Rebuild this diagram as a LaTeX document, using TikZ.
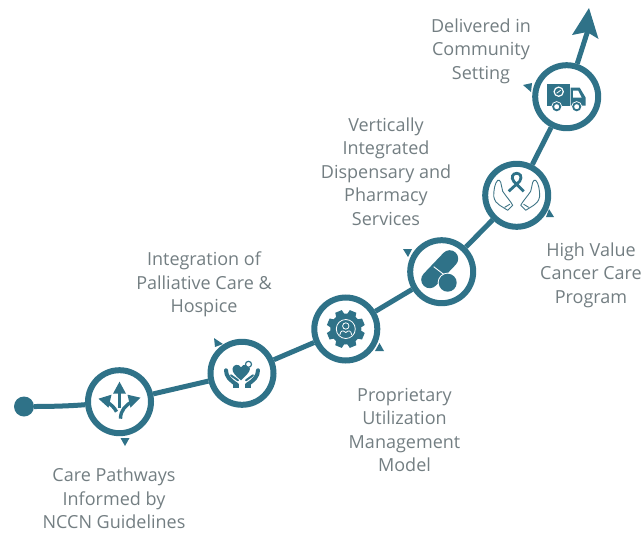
\documentclass[tikz,border=0pt]{standalone}
\usepackage{fontspec}
\setmainfont{Open Sans}
\definecolor{teal1}{HTML}{2F7288}
\definecolor{txt}{HTML}{737E82}
\tikzset{
  x=1pt,y=-1pt,
  stage/.style={circle,draw=teal1,line width=6pt,fill=white,minimum size=63pt,inner sep=0pt},
  link/.style={draw=teal1,line width=5pt},
  steplabel/.style={text=txt,font=\fontsize{18}{23.5}\selectfont,align=center,inner sep=0pt},
  pointer/.style={fill=teal1,draw=none},
  hand/.style={draw=teal1!80!gray,line width=0.9pt,fill=white,line join=round,line cap=round},
  palm/.style={draw=teal1,line width=4pt,line join=round,line cap=round},
}
\begin{document}
\begin{tikzpicture}
\useasboundingbox (0,0) rectangle (643,533);
\node[circle,fill=teal1,minimum size=20pt,inner sep=0pt] (start) at (24,406.5) {};
\node[stage] (n1) at (119.5,401.7) {};
\node[stage] (n2) at (242,373.3) {};
\node[stage] (n3) at (345.8,329) {};
\node[stage] (n4) at (441.7,271.7) {};
\node[stage] (n5) at (516.7,195.3) {};
\node[stage] (n6) at (566.7,96.7) {};
\coordinate (tip) at (588,30);
\draw[link] (start) .. controls (50,406.5) and (70,406) .. (n1);
\draw[link] (n1) -- (n2);
\draw[link] (n2) -- (n3);
\draw[link] (n3) -- (n4);
\draw[link] (n4) -- (n5);
\draw[link] (n5) -- (n6);
\draw[link] (n6) -- (tip);
\fill[teal1] (589,8) -- (598.5,39) -- (587,32) -- (572,35) -- cycle;
% small triangles
\fill[pointer] (120.5,438) -- (129.5,438) -- (125,446) -- cycle;
\fill[pointer] (214,338) -- (223,344) -- (215,347) -- cycle;
\fill[pointer] (375,351) -- (384,351) -- (379.5,343) -- cycle;
\fill[pointer] (403,249) -- (412,249) -- (408,257) -- cycle;
\fill[pointer] (546,217) -- (554,217) -- (549,209) -- cycle;
\fill[pointer] (523,85) -- (532,83) -- (531,92) -- cycle;
% icon 1: three arrows
\begin{scope}[shift={(n1.center)}]
\draw[teal1,line width=3.6pt] (0,-10) -- (0,6);
\fill[teal1] (0,-20) -- (6.5,-8) -- (-6.5,-8) -- cycle;
\draw[teal1,line width=3.4pt] (-3,10) .. controls (-5,6) and (-8,3) .. (-13,0);
\draw[teal1,line width=3.4pt] (1,17) .. controls (1,9) and (6,3) .. (13,0);
\fill[teal1] (-21,-3) -- (-8,-7) -- (-11,6) -- cycle;
\fill[teal1] (21,-4) -- (8,-7) -- (11,6) -- cycle;
\end{scope}
% icon 2: heart in hands
\begin{scope}[shift={(n2.center)}]
\fill[teal1] (-1,7) .. controls (-6,3) and (-10,-1) .. (-9.5,-4.5) .. controls (-9,-9) and (-3.5,-10) .. (-1,-6) .. controls (1,-10) and (7,-9) .. (8,-4.5) .. controls (8,-1) and (3,3) .. (-1,7) -- cycle;
\draw[teal1,line width=1.2pt,fill=white] (6.5,-9) circle (3);
\draw[palm] (-16,-3) .. controls (-16,3) and (-12,7) .. (-5,11.5);
\draw[palm] (16,-3) .. controls (16,3) and (12,7) .. (5,11.5);
\draw[teal1,line width=2pt,line cap=round] (-11,2) -- (-4,7);
\draw[teal1,line width=2pt,line cap=round] (11,2) -- (4,7);
\fill[teal1] (-9,11) -- (-3,11) -- (-3,15) -- (-9,15) -- cycle;
\fill[teal1] (9,11) -- (3,11) -- (3,15) -- (9,15) -- cycle;
\end{scope}
% icon 3: gear with person
\begin{scope}[shift={(n3.center)}]
\foreach \a in {0,45,...,315}{
  \fill[teal1,rotate=\a+22.5] (-4.5,-14) -- (-3.5,-19) -- (3.5,-19) -- (4.5,-14) -- cycle;
}
\fill[teal1] (0,0) circle (15.5);
\draw[white,line width=0.8pt] (0,0) circle (9.5);
\draw[white,line width=0.8pt] (0,-3) circle (3.2);
\draw[white,line width=0.8pt] (-6,6) .. controls (-5,1) and (-3,1) .. (0,3.5) .. controls (3,1) and (5,1) .. (6,6);
\end{scope}
% icon 4: pills
\begin{scope}[shift={(n4.center)}]
\draw[teal1,line width=17pt,line cap=round] (-12,8) -- (8,-13);
\draw[white,line width=0.9pt] (-8,-5) -- (5,5);
\fill[white] (6,11) circle (10);
\fill[teal1] (6,11) circle (9);
\end{scope}
% icon 5: ribbon in hands
\begin{scope}[shift={(n5.center)}]
\draw[teal1,line width=2.8pt] (-8,-4) -- (3,-14) .. controls (6,-19) and (3,-22) .. (0,-22) .. controls (-4,-22) and (-6,-18) .. (-3,-14) -- (7,-4);
\draw[hand] (-19,-15) .. controls (-22,-12) and (-23,-5) .. (-23,1) .. controls (-22,6) and (-20,8) .. (-17,10) -- (-9,15) -- (-4,10) .. controls (-6,6) and (-10,2) .. (-14,-4) -- (-16,-13) .. controls (-16.5,-15) and (-18,-15.5) .. (-19,-15) -- cycle;
\draw[hand] (19,-15) .. controls (22,-12) and (23,-5) .. (23,1) .. controls (22,6) and (20,8) .. (17,10) -- (9,15) -- (4,10) .. controls (6,6) and (10,2) .. (14,-4) -- (16,-13) .. controls (16.5,-15) and (18,-15.5) .. (19,-15) -- cycle;
\draw[hand] (-12,12) -- (-7,9);
\draw[hand] (12,12) -- (7,9);
\end{scope}
% icon 6: truck
\begin{scope}[shift={(n6.center)}]
\fill[teal1] (-20,-13) rectangle (3,9);
\fill[teal1] (4,-9) -- (13,-9) -- (19,1) -- (19,9) -- (4,9) -- cycle;
\fill[white] (6.5,-6) -- (11.5,-6) -- (15,1) -- (6.5,1) -- cycle;
\draw[white,line width=1.2pt] (-8,-5) circle (4.6);
\draw[white,line width=0.8pt] (-10,-3.5) -- (-6,-6.5);
\foreach \wx in {-10,10}{
  \fill[white] (\wx,10) circle (5.5);
  \draw[teal1,line width=1.8pt] (\wx,10) circle (3.6);
}
\end{scope}
% labels
\node[steplabel] (t1) at (114,498.5) {Care Pathways\\Informed by\\NCCN Guidelines};
\node[steplabel] (t2) at (204,284.5) {Integration of\\Palliative Care \&\\Hospice};
\node[steplabel] (t3) at (404.5,430) {Proprietary\\Utilization\\Management\\Model};
\node[steplabel] (t4) at (386,171.5) {Vertically\\Integrated\\Dispensary and\\Pharmacy\\Services};
\node[steplabel] (t5) at (591,275) {High Value\\Cancer Care\\Program};
\node[steplabel] (t6) at (481,51) {Delivered in\\Community\\Setting};
\end{tikzpicture}
\end{document}
